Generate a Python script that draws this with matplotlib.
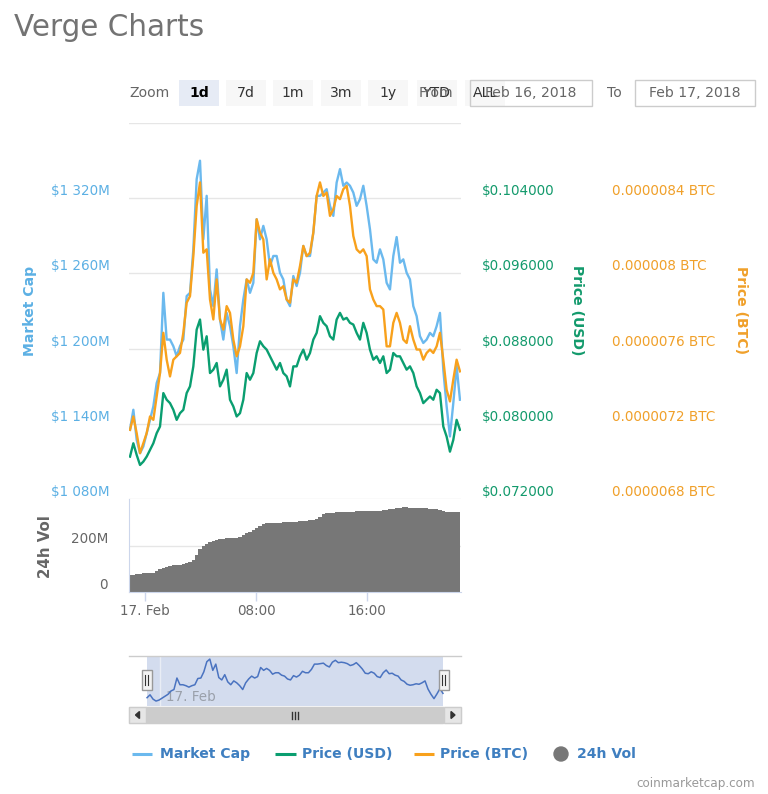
import numpy as np
import matplotlib
matplotlib.use("Agg")
import matplotlib.pyplot as plt
from matplotlib.patches import Rectangle, Circle, Polygon
from matplotlib.transforms import ScaledTranslation, blended_transform_factory

# ---------------- data (hours relative to 17 Feb 2018 00:00) ----------------
hours = np.linspace(-1.08, 22.70, 100)

market_cap = [  # $M
    1135.2, 1151.2, 1127.2, 1116.5, 1121.9, 1132.5, 1143.2, 1153.9, 1172.5, 1180.5,
    1244.5, 1207.2, 1207.2, 1201.9, 1193.9, 1201.9, 1207.2, 1241.9, 1244.5, 1279.2,
    1335.2, 1349.9, 1287.2, 1321.9, 1247.2, 1233.9, 1263.2, 1223.2, 1207.2, 1228.5,
    1217.9, 1201.9, 1180.5, 1217.9, 1239.2, 1255.2, 1244.5, 1252.5, 1303.2, 1287.2,
    1297.9, 1287.2, 1265.9, 1273.9, 1273.9, 1260.5, 1255.2, 1239.2, 1233.9, 1257.9,
    1249.9, 1260.5, 1281.9, 1273.9, 1273.9, 1292.5, 1321.9, 1321.9, 1324.5, 1327.2,
    1313.9, 1305.9, 1332.5, 1343.2, 1329.9, 1332.5, 1329.9, 1324.5, 1313.9, 1319.2,
    1329.9, 1313.9, 1295.2, 1271.2, 1268.5, 1279.2, 1271.2, 1252.5, 1247.2, 1273.9,
    1289.0, 1268.5, 1271.2, 1260.5, 1255.2, 1233.9, 1225.9, 1209.9, 1204.5, 1207.2,
    1212.5, 1209.9, 1217.9, 1228.5, 1183.2, 1153.9, 1129.9, 1156.5, 1185.9, 1159.2,
]

price_usd = [
    0.07651, 0.07793, 0.07669, 0.07562, 0.07598, 0.07651, 0.07722, 0.07793, 0.07900, 0.07971,
    0.08327, 0.08256, 0.08220, 0.08149, 0.08042, 0.08113, 0.08149, 0.08327, 0.08398, 0.08611,
    0.09002, 0.09109, 0.08789, 0.08931, 0.08540, 0.08576, 0.08647, 0.08398, 0.08469, 0.08576,
    0.08256, 0.08185, 0.08078, 0.08113, 0.08256, 0.08540, 0.08469, 0.08540, 0.08753, 0.08878,
    0.08825, 0.08789, 0.08718, 0.08647, 0.08576, 0.08647, 0.08540, 0.08505, 0.08398, 0.08611,
    0.08611, 0.08718, 0.08789, 0.08682, 0.08753, 0.08896, 0.08967, 0.09145, 0.09074, 0.09038,
    0.08931, 0.08896, 0.09109, 0.09180, 0.09109, 0.09127, 0.09074, 0.09056, 0.08967, 0.08896,
    0.09074, 0.08967, 0.08789, 0.08682, 0.08718, 0.08647, 0.08718, 0.08540, 0.08576, 0.08753,
    0.08718, 0.08718, 0.08647, 0.08576, 0.08611, 0.08540, 0.08398, 0.08327, 0.08220, 0.08256,
    0.08291, 0.08256, 0.08362, 0.08327, 0.07971, 0.07864, 0.07704, 0.07829, 0.08042, 0.07936,
]

price_btc_e7 = [  # BTC x 1e-7
    71.68, 72.39, 71.50, 70.44, 70.97, 71.50, 72.39, 72.21, 73.46, 74.70,
    76.84, 75.41, 74.52, 75.41, 75.59, 75.77, 76.84, 78.44, 78.79, 80.92,
    83.59, 84.84, 81.10, 81.28, 78.61, 77.55, 79.68, 77.55, 77.01, 78.26,
    77.90, 76.48, 75.59, 76.12, 77.19, 79.68, 79.50, 80.03, 82.88, 82.17,
    81.81, 79.68, 80.75, 80.03, 79.68, 79.15, 79.32, 78.61, 78.44, 79.68,
    79.50, 80.39, 81.46, 80.92, 81.10, 82.17, 84.12, 84.84, 84.12, 84.30,
    83.06, 83.41, 84.12, 83.95, 84.48, 84.66, 83.59, 81.99, 81.28, 81.10,
    81.28, 80.92, 79.15, 78.61, 78.26, 78.26, 78.08, 76.12, 76.12, 77.37,
    77.90, 77.37, 76.48, 76.30, 77.19, 76.48, 75.95, 75.95, 75.41, 75.77,
    75.95, 75.77, 76.12, 76.84, 75.41, 73.81, 73.19, 74.35, 75.41, 74.79,
]
price_btc = np.array(price_btc_e7) * 1e-7

vol_24h = [  # $M
    74.2, 75.7, 78.6, 80.1, 81.6, 81.6, 81.6, 84.6, 90.5, 99.4,
    103.8, 108.3, 114.2, 115.7, 117.1, 117.1, 120.1, 126.0, 131.9, 140.8,
    163.1, 185.3, 200.1, 210.5, 217.9, 222.3, 226.8, 229.7, 232.7, 234.2,
    235.7, 235.7, 237.1, 241.6, 247.5, 254.9, 262.3, 269.7, 277.1, 289.0,
    296.4, 299.4, 300.8, 300.8, 302.3, 302.3, 303.8, 303.8, 303.8, 303.8,
    306.8, 308.2, 309.7, 311.2, 312.7, 314.2, 318.6, 326.0, 340.8, 343.8,
    345.3, 345.3, 346.8, 346.8, 348.3, 348.3, 349.7, 349.7, 351.2, 351.2,
    352.7, 352.7, 352.7, 354.2, 354.2, 354.2, 355.7, 357.1, 360.1, 363.1,
    366.0, 367.5, 369.0, 369.0, 367.5, 367.5, 366.0, 366.0, 364.6, 364.6,
    363.1, 361.6, 360.1, 358.6, 351.2, 349.7, 348.3, 348.3, 348.3, 346.8,
]

mc_ticks = [1080, 1140, 1200, 1260, 1320, 1380]
usd_ticks = [0.072, 0.080, 0.088, 0.096, 0.104, 0.112]
btc_ticks = [6.8e-6, 7.2e-6, 7.6e-6, 8.0e-6, 8.4e-6, 8.8e-6]
vol_ticks = [0, 200]
x_ticks = [0, 8, 16]
x_labels = ["17. Feb", "08:00", "16:00"]

# ---------------- style ----------------
C_MC = "#6bb9ee"
C_MC_T = "#5cb0e4"
C_USD = "#0a9e70"
C_USD_T = "#139a6c"
C_BTC = "#f8a11c"
C_BTC_T = "#f0a02a"
C_VOL = "#777777"
C_GRID = "#e6e6e6"
C_AX = "#ccd6eb"
plt.rcParams["font.family"] = ["DejaVu Sans"]

W, H = 768, 794
fig = plt.figure(figsize=(W / 100, H / 100), dpi=100)


def rect(x0, y0, x1, y1):
    return [x0 / W, 1 - y1 / H, (x1 - x0) / W, (y1 - y0) / H]


def px(v):
    return v * 0.72


XLIM = (-1.153, 22.775)
LW = 1.7

# ---------------- main pane ----------------
ax = fig.add_axes(rect(129, 123, 461, 499))
ax_usd = ax.twinx()
ax_btc = ax.twinx()
for a in (ax, ax_usd, ax_btc):
    for s in a.spines.values():
        s.set_visible(False)
    a.set_xlim(*XLIM)
    a.set_xticks([])
    a.set_yticks([])
    a.patch.set_alpha(0)

ax.set_ylim(1080, 1380)
ax_usd.set_ylim(0.072, 0.112)
ax_btc.set_ylim(6.8e-6, 8.8e-6)
for v in mc_ticks:
    ax.axhline(v, color=C_GRID, lw=1, zorder=0)

ax.plot(hours, market_cap, color=C_MC, lw=LW, solid_joinstyle="round")
ax_usd.plot(hours, price_usd, color=C_USD, lw=LW, solid_joinstyle="round")
ax_btc.plot(hours, price_btc, color=C_BTC, lw=LW, solid_joinstyle="round")

tr_l = blended_transform_factory(ax.transAxes, ax.transData) + ScaledTranslation(-19 / 100, 7 / 100, fig.dpi_scale_trans)
for v in mc_ticks[:-1]:
    ax.text(0, v, "$1 %03dM" % (v - 1000), transform=tr_l, ha="right", va="center",
            color=C_MC_T, fontsize=px(13.5))
tr_u = blended_transform_factory(ax_usd.transAxes, ax_usd.transData) + ScaledTranslation(21 / 100, 7 / 100, fig.dpi_scale_trans)
for v in usd_ticks[:-1]:
    ax_usd.text(1, v, "$%.6f" % v, transform=tr_u, ha="left", va="center",
                color=C_USD_T, fontsize=px(13.5))
tr_b = blended_transform_factory(ax_btc.transAxes, ax_btc.transData) + ScaledTranslation(151 / 100, 7 / 100, fig.dpi_scale_trans)
for v in btc_ticks[:-1]:
    s = ("%.7f" % v).rstrip("0") + " BTC"
    ax_btc.text(1, v, s, transform=tr_b, ha="left", va="center",
                color=C_BTC_T, fontsize=px(13.5))

fig.text(30 / W, 1 - 311 / H, "Market Cap", rotation=90, ha="center", va="center",
         color=C_MC_T, fontsize=px(14), fontweight="bold")
fig.text(577 / W, 1 - 310 / H, "Price (USD)", rotation=270, ha="center", va="center",
         color=C_USD_T, fontsize=px(14), fontweight="bold")
fig.text(741 / W, 1 - 310 / H, "Price (BTC)", rotation=270, ha="center", va="center",
         color=C_BTC_T, fontsize=px(14), fontweight="bold")

# ---------------- volume pane ----------------
axv = fig.add_axes(rect(129, 499, 461, 592))
axv.fill_between(hours, vol_24h, 0, color=C_VOL, step="mid", lw=0)
axv.set_xlim(*XLIM)
axv.set_ylim(0, 405)
axv.set_yticks([])
axv.axhline(200, color=C_GRID, lw=1, zorder=0)
for k in ("top", "right"):
    axv.spines[k].set_visible(False)
axv.spines["left"].set_color(C_AX)
axv.spines["bottom"].set_color(C_AX)
axv.set_xticks(x_ticks)
axv.set_xticklabels(x_labels)
axv.tick_params(axis="x", length=px(9), width=1, color=C_AX, pad=px(3),
                labelsize=px(13.5), labelcolor="#666666")
tr_v = blended_transform_factory(axv.transAxes, axv.transData) + ScaledTranslation(-21 / 100, 7 / 100, fig.dpi_scale_trans)
for v in vol_ticks:
    axv.text(0, v, "0" if v == 0 else "%dM" % v, transform=tr_v, ha="right", va="center",
             color="#666666", fontsize=px(13.5))
fig.text(45 / W, 1 - 547 / H, "24h Vol", rotation=90, ha="center", va="center",
         color="#666666", fontsize=px(15), fontweight="bold")

# ---------------- navigator ----------------
axn = fig.add_axes(rect(129, 656, 461, 706))
axn.set_xlim(-2.53, 24.15)
axn.set_ylim(1089, 1367)
axn.set_xticks([])
axn.set_yticks([])
for s in axn.spines.values():
    s.set_visible(False)
axn.axvspan(hours[0], hours[-1], color="#d3dcee", lw=0, zorder=0)
axn.axvline(0, color="#e9edf5", lw=1, zorder=1)
axn.plot(hours, market_cap, color="#4a73c0", lw=1.1, zorder=2)
axn.text(0.45, 1100, "17. Feb", color="#9aa0aa", fontsize=px(13.5), va="bottom", ha="left", zorder=1)

# ---------------- decorations in pixel space ----------------
ov = fig.add_axes([0, 0, 1, 1], zorder=10)
ov.set_xlim(0, W)
ov.set_ylim(H, 0)
ov.axis("off")
ov.patch.set_alpha(0)

fig.text(14 / W, 1 - 28 / H, "Verge Charts", color="#737373", fontsize=px(29.5), va="center", ha="left")

# zoom row
ov.text(129, 93, "Zoom", color="#666666", fontsize=px(14), va="center", ha="left")
btns = [("1d", 179, 219), ("7d", 226, 266), ("1m", 273, 313), ("3m", 321, 361),
        ("1y", 368, 408), ("YTD", 417, 457), ("ALL", 465, 505)]
for lab, x0, x1 in btns:
    sel = lab == "1d"
    ov.add_patch(Rectangle((x0, 80), x1 - x0, 26, facecolor="#e6ebf5" if sel else "#f7f7f7",
                           edgecolor="none"))
for lab, x0, x1 in btns:
    sel = lab == "1d"
    ov.text((x0 + x1) / 2, 93, lab, color="#000000" if sel else "#333333", fontsize=px(14),
            fontweight="bold" if sel else "normal", ha="center", va="center")
ov.text(419, 93, "From", color="#666666", fontsize=px(14), va="center", ha="left")
ov.add_patch(Rectangle((470, 80), 122, 26, facecolor="none", edgecolor="#cccccc", lw=1))
ov.text(531, 93, "Feb 16, 2018", color="#666666", fontsize=px(14), va="center", ha="center")
ov.text(607, 93, "To", color="#666666", fontsize=px(14), va="center", ha="left")
ov.add_patch(Rectangle((635, 80), 120, 26, facecolor="white", edgecolor="#cccccc", lw=1))
ov.text(695, 93, "Feb 17, 2018", color="#666666", fontsize=px(14), va="center", ha="center")

# navigator outline + handles
ov.plot([129, 461], [655.5, 655.5], color="#cccccc", lw=1)
for hx in (146.5, 443.5):
    ov.add_patch(Rectangle((hx - 5, 670), 10, 20, facecolor="#f2f2f2", edgecolor="#999999", lw=1))
    ov.plot([hx - 1.5, hx - 1.5], [675, 685], color="#333333", lw=0.8)
    ov.plot([hx + 1.5, hx + 1.5], [675, 685], color="#333333", lw=0.8)

# scrollbar
ov.add_patch(Rectangle((129, 707), 332, 16, facecolor="#f2f2f2", edgecolor="#f2f2f2", lw=1))
ov.add_patch(Rectangle((146, 707), 297, 16, facecolor="#cccccc", edgecolor="#cccccc", lw=1))
ov.add_patch(Rectangle((129, 707), 17, 16, facecolor="#e6e6e6", edgecolor="#cccccc", lw=1))
ov.add_patch(Rectangle((444, 707), 17, 16, facecolor="#e6e6e6", edgecolor="#cccccc", lw=1))
ov.add_patch(Polygon([[135.5, 715], [139.5, 711.5], [139.5, 718.5]], closed=True, color="#333333"))
ov.add_patch(Polygon([[455, 715], [451, 711.5], [451, 718.5]], closed=True, color="#333333"))
for gx in (292, 295, 298):
    ov.plot([gx, gx], [711.5, 718.5], color="#333333", lw=1)

# legend
ly = 754
items = [(C_MC, 132, 152, "Market Cap", 160), (C_USD, 275, 296, "Price (USD)", 302),
         (C_BTC, 414, 434, "Price (BTC)", 440)]
for c, x0, x1, lab, tx in items:
    ov.plot([x0, x1], [ly, ly], color=c, lw=2.2, solid_capstyle="butt")
    ov.text(tx, ly, lab, color="#3f7fc0", fontsize=px(14), fontweight="bold", va="center", ha="left")
ov.add_patch(Circle((561, ly), 7, color=C_VOL))
ov.text(577, ly, "24h Vol", color="#3f7fc0", fontsize=px(14), fontweight="bold", va="center", ha="left")
ov.text(755, 783, "coinmarketcap.com", color="#999999", fontsize=px(12), va="center", ha="right")

fig.savefig("out.png", dpi=100, facecolor="white")
